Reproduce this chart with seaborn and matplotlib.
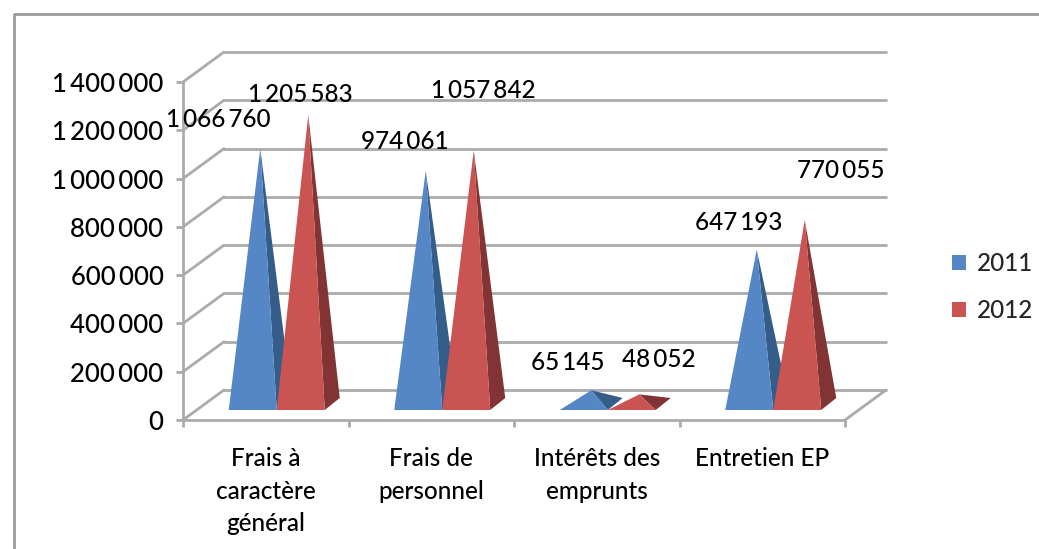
# Pyramides 3D facon Excel, charges 2011 / 2012
import matplotlib
matplotlib.use('Agg')
import matplotlib.pyplot as plt
from matplotlib.lines import Line2D
from matplotlib.patches import Patch, Polygon
import pandas as pd
import seaborn as sns

categories = ['Frais à\ncaractère\ngénéral', 'Frais de\npersonnel', 'Intérêts des\nemprunts', 'Entretien EP']
values_2011 = [1066760, 974061, 65145, 647193]
values_2012 = [1205583, 1057842, 48052, 770055]
years = ['2011', '2012']
y_ticks = [0, 200000, 400000, 600000, 800000, 1000000, 1200000, 1400000]

colors = {'2011': '#5586C5', '2012': '#CA5452'}
dark = {'2011': '#355D8A', '2012': '#823333'}
grid_color = '#ABABAB'

# decalage des etiquettes par rapport au sommet (pixels)
label_offsets = {
    '2011': [(-42, 29), (-21, 29), (-24, 28), (-18, 27)],
    '2012': [(-8, 20), (10, 60), (20, 35), (36, 50)],
}

sns.set_theme(style='white')
plt.rcParams['font.family'] = ['Lato', 'DejaVu Sans']


def fmt(v):
    return f'{int(v):,}'.replace(',', '\u2009')


W, H = 1039, 549
fig = plt.figure(figsize=(W / 100, H / 100), dpi=100)
ax = fig.add_axes([183 / W, (H - 420) / H, 662 / W, 338 / H])

df = pd.DataFrame({
    'poste': categories * 2,
    'annee': [years[0]] * 4 + [years[1]] * 4,
    'montant': values_2011 + values_2012,
})
sns.barplot(data=df, x='poste', y='montant', hue='annee', palette=colors,
            width=0.58, gap=0, legend=False, ax=ax)
ax.set_xlim(-0.5, 3.5)
ax.set_ylim(0, 1400000)

# conversion pixels -> donnees pour la profondeur
px_x = 4 / 662
px_y = 1400000 / 338


def wall_pt(x, y):
    return x + 41 * px_x, y + 30 * px_y


# parois du fond
x0, x1 = -0.5, 3.5
for t in y_ticks:
    bx, by = wall_pt(x0, t)
    ex, _ = wall_pt(x1, t)
    ax.plot([x0, bx], [t, by], color=grid_color, lw=2, clip_on=False, zorder=1)
    ax.plot([bx, ex], [by, by], color=grid_color, lw=2, clip_on=False, zorder=1)
bx, by = wall_pt(x1, 0)
ax.plot([x1, bx], [0, by], color=grid_color, lw=2, clip_on=False, zorder=1)

# chaque barre devient une pyramide
z = 3
for year, container in zip(years, ax.containers):
    for bar, off in zip(container, label_offsets[year]):
        bar.set_visible(False)
        left = bar.get_x() + 11 * px_x
        right = left + bar.get_width()
        value = bar.get_height()
        base = 10 * px_y
        back_x = right + 15 * px_x
        back_y = base + 12 * px_y
        apex = ((left + right) / 2 + 7.5 * px_x, base + 4 * px_y + value)
        ax.add_patch(Polygon([apex, (right, base), (back_x, back_y)], closed=True,
                             fc=dark[year], ec='none', clip_on=False, zorder=z))
        ax.add_patch(Polygon([apex, (left, base), (right, base)], closed=True,
                             fc=colors[year], ec='none', clip_on=False, zorder=z + 0.5))
        ax.annotate(fmt(value), apex, xytext=off,
                    textcoords='offset pixels', ha='center', va='center',
                    fontsize=17.5, fontweight='medium', color='black',
                    annotation_clip=False, zorder=10)
    z += 1

for side in ['top', 'right']:
    ax.spines[side].set_visible(False)
for side in ['left', 'bottom']:
    ax.spines[side].set_color(grid_color)
    ax.spines[side].set_linewidth(2)

ax.set_xlabel('')
ax.set_ylabel('')
ax.set_yticks(y_ticks)
ax.set_yticklabels([fmt(t) for t in y_ticks], fontsize=18.5, fontweight='medium', color='black')
ax.set_xticks(range(4))
ax.set_xticklabels(categories, fontsize=17.5, fontweight='medium', color='black', linespacing=1.5)
ax.set_xticks([-0.5, 0.5, 1.5, 2.5, 3.5], minor=True)
ax.tick_params(axis='x', which='major', length=0, pad=19.5)
ax.tick_params(axis='x', which='minor', length=5, width=2, color=grid_color, bottom=True)
ax.tick_params(axis='y', which='major', length=5, width=2, color=grid_color, left=True, pad=9)

handles = [Patch(fc=colors[y], ec='none') for y in years]
fig.legend(handles, years, loc='center left', bbox_to_anchor=(952 / W, 1 - 287 / H), frameon=False,
           prop={'size': 17.5, 'weight': 'medium'}, handlelength=0.58, handleheight=0.58,
           handletextpad=0.45, labelspacing=1.0, borderpad=0, borderaxespad=0)

# cadre exterieur
fig.add_artist(Line2D([14 / W, 14 / W, 1], [0, 1 - 14 / H, 1 - 14 / H], color='#9A9A9A', lw=2))

fig.savefig('out.png', dpi=100)
